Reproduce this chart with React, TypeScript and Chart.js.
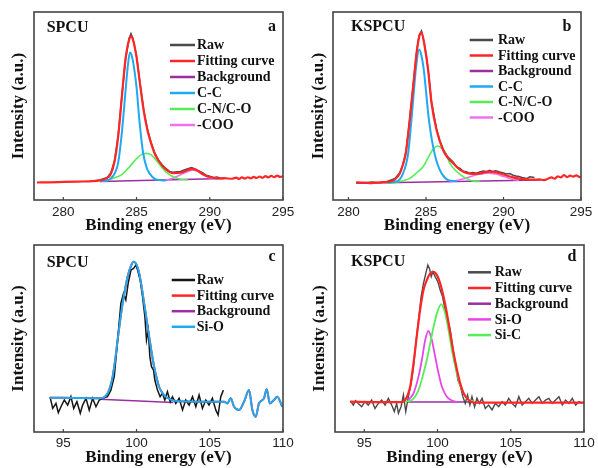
import React, { useEffect, useRef } from "react";
import { Chart, registerables } from "chart.js";
Chart.register(...registerables);

type Pt = [number, number];

// ---------- tick labels ----------
const ticksC1s = [280, 285, 290, 295];
const ticksSi2p = [95, 100, 105, 110];

// ---------- panel a : SPCU C1s ----------
const rawA: Pt[] = [[282.0,10.1],[282.5,10.6],[283.0,12.0],[283.25,14.5],[283.5,21.0],[283.75,34.5],[284.0,55.5],[284.25,75.0],[284.5,86.0],[284.62,88.5],[284.75,86.0],[285.0,76.5],[285.25,61.5],[285.5,47.5],[285.75,37.5],[286.0,30.5],[286.25,25.0],[286.5,21.2],[286.75,18.8],[287.0,16.8],[287.25,15.2],[287.5,14.8],[287.75,15.0],[288.0,15.2],[288.25,16.0],[288.5,16.6],[288.75,17.2],[289.0,16.5],[289.25,15.4],[289.5,14.5],[289.75,13.2],[290.0,12.6],[290.25,12.0],[290.5,12.2],[290.75,11.6],[291.0,11.4]];
const fitA: Pt[] = [[278.2,9.3],[279.0,9.4],[280.0,9.6],[281.0,9.8],[282.0,10.0],[282.5,10.4],[282.75,10.9],[283.0,11.8],[283.25,14.0],[283.5,20.5],[283.75,34.0],[284.0,55.0],[284.25,75.0],[284.5,85.5],[284.62,87.0],[284.75,85.5],[285.0,76.0],[285.25,61.0],[285.5,47.0],[285.75,37.0],[286.0,30.0],[286.25,24.5],[286.5,21.0],[286.75,18.3],[287.0,16.3],[287.5,14.3],[288.0,14.5],[288.5,16.0],[288.8,16.6],[289.1,15.9],[289.5,13.8],[290.0,12.2],[290.5,11.5],[291.0,11.6],[291.5,11.3],[291.8,11.9],[292.0,11.2],[292.2,12.0],[292.4,11.4],[292.6,12.1],[292.8,11.5],[293.0,12.3],[293.2,11.7],[293.4,12.5],[293.6,11.8],[293.8,12.7],[294.0,12.0],[294.2,12.9],[294.4,12.1],[294.6,13.0],[294.8,12.3],[295.0,12.6]];
const bgA: Pt[] = [[282.5,9.8],[291.0,11.5]];
const ccA: Pt[] = [[282.5,10.0],[283.0,10.5],[283.25,11.5],[283.5,14.0],[283.75,20.0],[284.0,36.0],[284.25,58.0],[284.4,71.0],[284.55,78.5],[284.7,76.0],[285.0,60.0],[285.2,42.0],[285.45,25.0],[285.7,17.0],[285.9,14.0],[286.2,11.5],[286.5,10.6],[287.0,10.4]];
const cnA: Pt[] = [[282.5,10.0],[283.0,10.4],[283.5,11.8],[284.0,13.5],[284.5,17.5],[285.0,22.0],[285.3,24.0],[285.64,24.8],[286.0,24.0],[286.5,19.5],[287.0,15.0],[287.5,12.4],[288.0,11.0],[288.5,10.7]];
const cooA: Pt[] = [[287.0,10.6],[287.5,11.6],[288.0,13.4],[288.5,15.2],[288.85,15.8],[289.2,15.1],[289.6,13.3],[290.0,11.8],[290.5,11.4]];

// ---------- panel b : KSPCU C1s ----------
const rawB: Pt[] = [[280.5,9.5],[281.0,9.0],[281.5,9.6],[282.0,9.2],[282.5,9.9],[283.0,11.4],[283.3,14.4],[283.5,18.8],[283.7,25.5],[283.95,43.0],[284.17,60.8],[284.39,78.5],[284.55,87.5],[284.71,90.0],[284.92,82.0],[285.14,69.5],[285.35,52.5],[285.68,37.8],[285.9,31.5],[286.1,27.2],[286.4,23.0],[286.75,20.2],[287.0,17.5],[287.2,16.8],[287.4,15.3],[287.6,15.0],[287.8,14.3],[288.0,14.6],[288.25,14.2],[288.47,14.9],[288.7,15.4],[288.9,15.1],[289.1,15.8],[289.3,15.2],[289.5,15.6],[289.76,14.9],[290.0,14.4],[290.2,13.8],[290.4,14.1],[290.62,13.2],[290.8,12.8],[291.0,12.5],[291.2,12.0],[291.5,11.4],[291.7,12.3],[292.0,12.0]];
const fitB: Pt[] = [[280.5,9.2],[281.0,9.3],[281.5,9.0],[282.0,9.4],[282.5,9.6],[282.75,10.0],[283.0,11.0],[283.3,14.0],[283.5,18.5],[283.7,25.0],[283.95,42.6],[284.17,60.3],[284.39,78.0],[284.55,86.5],[284.71,89.2],[284.92,81.5],[285.14,69.0],[285.35,52.0],[285.68,37.2],[286.1,26.6],[286.4,22.5],[286.75,19.5],[287.2,16.0],[287.6,14.4],[288.0,13.9],[288.47,14.0],[288.8,14.8],[289.1,15.1],[289.45,14.8],[289.76,14.2],[290.2,13.0],[290.62,12.0],[291.0,11.4],[291.5,11.0],[292.0,10.8],[292.3,11.0],[292.6,10.6],[292.9,11.4],[293.1,12.0],[293.3,11.3],[293.5,12.6],[293.7,12.0],[293.9,13.3],[294.1,12.2],[294.3,13.0],[294.5,12.4],[294.7,13.1],[294.9,12.2],[295.0,12.5]];
const bgB: Pt[] = [[280.5,8.9],[292.4,10.6]];
const ccB: Pt[] = [[282.5,9.3],[283.1,9.8],[283.52,14.2],[283.85,24.8],[284.06,42.6],[284.2,56.0],[284.35,70.0],[284.56,80.1],[284.7,77.0],[284.86,69.1],[285.0,58.0],[285.14,46.1],[285.3,36.0],[285.46,28.4],[285.65,21.5],[285.89,16.0],[286.15,12.5],[286.43,10.6],[287.0,10.0]];
const cnB: Pt[] = [[282.5,9.0],[283.1,9.5],[283.95,11.5],[284.4,14.5],[284.81,17.7],[285.2,23.5],[285.5,27.5],[285.74,28.7],[286.0,27.5],[286.3,24.0],[286.54,19.5],[287.0,15.0],[287.4,12.4],[288.04,10.0],[288.5,9.8]];
const cooB: Pt[] = [[286.5,9.9],[287.0,10.4],[287.5,11.5],[288.0,12.8],[288.5,13.9],[289.0,14.3],[289.5,13.8],[290.0,12.5],[290.5,11.2],[291.0,10.5]];

// ---------- panel c : SPCU Si2p ----------
const rawC: Pt[] = [[94.12,18.0],[94.28,12.6],[94.5,15.3],[94.66,10.3],[94.84,13.5],[95.07,17.1],[95.3,14.4],[95.52,18.9],[95.71,12.6],[95.93,16.2],[96.16,10.0],[96.32,14.4],[96.55,18.0],[96.77,11.7],[97.0,18.0],[97.23,13.5],[97.46,17.1],[97.68,18.0],[98.02,18.9],[98.25,22.4],[98.48,29.6],[98.71,49.2],[98.93,68.8],[99.11,74.1],[99.27,70.6],[99.43,79.5],[99.62,86.6],[99.8,87.5],[99.96,89.3],[100.07,86.6],[100.25,81.3],[100.41,72.4],[100.57,61.7],[100.68,49.2],[100.8,54.5],[100.91,40.3],[101.02,34.9],[101.16,33.1],[101.25,27.8],[101.43,22.4],[101.61,18.9],[101.77,20.7],[101.93,17.1],[102.11,21.6],[102.3,16.2],[102.45,18.9],[102.68,15.3],[102.91,18.0],[103.14,11.8],[103.36,17.1],[103.59,14.4],[103.82,18.9],[104.05,13.5],[104.27,19.8],[104.5,12.6],[104.73,17.1],[104.95,14.4],[105.18,18.0],[105.41,11.8],[105.57,9.1],[105.75,18.9],[105.93,22.4]];
const siOC: Pt[] = [[94.05,18.3],[95.0,18.3],[96.0,18.2],[97.0,18.1],[97.57,18.0],[98.03,20.7],[98.2,24.0],[98.37,29.6],[98.55,39.0],[98.71,49.2],[98.88,59.5],[99.05,68.8],[99.22,76.5],[99.39,83.0],[99.6,88.5],[99.8,91.1],[100.0,89.5],[100.18,84.9],[100.35,77.5],[100.52,68.8],[100.69,60.0],[100.86,51.0],[101.03,42.5],[101.2,34.9],[101.37,29.0],[101.54,24.2],[101.77,20.8],[102.0,18.9],[102.3,17.5],[102.57,16.7],[103.5,16.3],[104.5,16.2],[105.5,16.2],[105.98,16.2],[106.2,15.3],[106.43,18.0],[106.66,13.5],[107.0,11.8],[107.34,16.2],[107.68,22.5],[107.91,11.8],[108.14,8.2],[108.36,15.3],[108.7,18.0],[108.89,22.8],[109.1,15.3],[109.38,17.1],[109.61,18.9],[109.95,13.5]];
const bgC: Pt[] = [[97.5,17.5],[102.5,15.8]];

// ---------- panel d : KSPCU Si2p ----------
const rawD: Pt[] = [[94.09,16.2],[94.25,14.4],[94.41,16.8],[94.59,15.3],[94.82,13.5],[95.05,16.2],[95.27,14.4],[95.5,17.1],[95.73,12.6],[95.96,15.3],[96.19,17.1],[96.42,14.4],[96.64,18.0],[96.87,14.4],[97.05,10.9],[97.21,15.3],[97.33,10.0],[97.51,13.5],[97.67,19.8],[97.83,10.9],[98.01,18.9],[98.2,26.0],[98.36,34.9],[98.52,47.4],[98.7,59.9],[98.88,72.4],[99.04,79.5],[99.2,84.8],[99.34,89.3],[99.45,87.5],[99.57,83.1],[99.68,85.7],[99.84,83.1],[100.02,80.4],[100.18,75.9],[100.34,72.4],[100.52,65.2],[100.69,60.8],[100.87,54.5],[101.03,45.6],[101.21,36.7],[101.39,27.8],[101.57,24.2],[101.73,18.9],[101.89,15.3],[102.05,19.8],[102.21,14.4],[102.35,18.9],[102.53,13.5],[102.69,18.0],[102.85,15.3],[103.04,18.0],[103.26,12.6],[103.49,14.4],[103.72,11.8],[103.95,15.3],[104.18,13.5],[104.41,16.2],[104.63,14.4],[104.86,18.0],[105.09,15.3],[105.32,13.5],[105.55,18.9],[105.78,14.4],[106.0,16.2],[106.23,18.0],[106.46,15.3],[106.69,17.1],[106.92,18.9],[107.15,15.3],[107.37,17.1],[107.6,18.0],[107.83,15.3],[108.06,17.1],[108.29,18.9],[108.52,14.4],[108.74,17.1],[108.97,15.3],[109.2,18.0],[109.43,14.4],[109.66,16.2],[109.89,15.3]];
const fitD: Pt[] = [[94.02,16.2],[96.0,16.0],[97.5,16.0],[97.79,17.1],[98.13,24.2],[98.36,36.7],[98.58,51.0],[98.81,65.2],[99.04,75.9],[99.27,81.3],[99.5,84.8],[99.73,85.7],[99.95,84.0],[100.18,79.5],[100.41,72.4],[100.64,63.4],[100.87,52.8],[101.1,42.1],[101.33,33.2],[101.55,26.0],[101.78,20.7],[102.12,17.1],[102.47,15.7],[104.0,15.7],[106.0,15.7],[108.0,15.7],[110.0,15.7]];
const bgD: Pt[] = [[98.0,16.0],[102.2,16.0]];
const siOD: Pt[] = [[98.01,17.1],[98.36,20.7],[98.7,29.6],[98.93,38.5],[99.16,49.2],[99.38,54.0],[99.61,49.2],[99.84,40.3],[100.07,31.4],[100.3,24.2],[100.64,18.9],[100.98,16.8],[101.33,16.0]];
const siCD: Pt[] = [[97.79,16.2],[98.24,17.1],[98.7,22.4],[99.04,31.4],[99.27,38.5],[99.5,47.4],[99.73,56.3],[100.0,64.5],[100.25,68.4],[100.52,63.4],[100.75,54.5],[100.98,43.8],[101.21,34.9],[101.44,27.8],[101.67,22.4],[102.01,18.0],[102.47,16.2]];

// ---------- colours ----------
const RAW = "#4a4a4a";
const RAWC = "#151515";
const RED = "#ff2626";
const PURPLE = "#9a2fa0";
const BLUE = "#1fa9f2";
const GREEN = "#55ee55";
const PINK = "#f070f0";
const MAGENTA = "#e845e8";

type Series = { label: string; data: Pt[]; color: string; width: number; order: number; smooth: boolean };
type PanelCfg = {
  left: number; top: number; width: number; height: number;
  padTop: number; padRight: number; yWidth: number; xHeight: number;
  xMin: number; xMax: number; ticks: number[]; tickPad: number; yTitlePad: number;
  name: string; letter: string;
  nameX: number; nameY: number; letterX: number; letterY: number;
  legX1: number; legX2: number; legTX: number; legY: number; legDy: number;
  series: Series[];
};

const SERIF = '"Liberation Serif", "Times New Roman", serif';
const SANS = '"Liberation Sans", Arial, sans-serif';

const decor = {
  id: "decor",
  afterDraw(chart: any, _args: any, o: any) {
    const { ctx, chartArea: ca } = chart;
    const x = chart.scales.x;
    ctx.save();
    ctx.strokeStyle = "#444";
    ctx.lineWidth = 1.6;
    ctx.strokeRect(ca.left, ca.top, ca.right - ca.left, ca.bottom - ca.top);
    ctx.lineWidth = 1.2;
    ctx.beginPath();
    for (const v of o.ticks) {
      const px = x.getPixelForValue(v);
      ctx.moveTo(px, ca.bottom);
      ctx.lineTo(px, ca.bottom - 3);
    }
    ctx.stroke();
    ctx.fillStyle = "#111";
    ctx.textBaseline = "middle";
    ctx.font = `bold 16px ${SERIF}`;
    ctx.textAlign = "left";
    ctx.fillText(o.name, ca.left + o.nameX, ca.top + o.nameY);
    ctx.textAlign = "center";
    ctx.fillText(o.letter, ca.left + o.letterX, ca.top + o.letterY);
    ctx.font = `bold 14px ${SERIF}`;
    ctx.textAlign = "left";
    o.series.forEach((s: Series, i: number) => {
      const y = ca.top + o.legY + i * o.legDy;
      ctx.strokeStyle = s.color;
      ctx.lineWidth = 2.5;
      ctx.beginPath();
      ctx.moveTo(ca.left + o.legX1, y);
      ctx.lineTo(ca.left + o.legX2, y);
      ctx.stroke();
      ctx.fillStyle = "#111";
      ctx.fillText(s.label, ca.left + o.legTX, y + 0.5);
    });
    ctx.restore();
  },
};

function Panel({ cfg }: { cfg: PanelCfg }) {
  const ref = useRef<HTMLCanvasElement>(null);
  useEffect(() => {
    const chart = new Chart(ref.current!, {
      type: "line",
      data: {
        datasets: cfg.series.map((s) => ({
          label: s.label,
          data: s.data.map(([x, y]) => ({ x, y })),
          borderColor: s.color,
          backgroundColor: s.color,
          borderWidth: s.width,
          pointRadius: 0,
          order: s.order,
          fill: false,
          tension: 0,
          cubicInterpolationMode: s.smooth ? "monotone" : "default",
        })),
      } as any,
      options: {
        animation: false,
        responsive: false,
        maintainAspectRatio: false,
        events: [],
        layout: { padding: { left: 0, top: cfg.padTop, right: cfg.padRight, bottom: 0 } },
        plugins: {
          legend: { display: false },
          tooltip: { enabled: false },
          decor: cfg,
        } as any,
        scales: {
          x: {
            type: "linear",
            min: cfg.xMin,
            max: cfg.xMax,
            afterBuildTicks: (s: any) => {
              s.ticks = cfg.ticks.map((v) => ({ value: v }));
            },
            afterFit: (s: any) => {
              s.height = cfg.xHeight;
            },
            grid: { display: false, drawTicks: false },
            border: { display: false },
            ticks: {
              font: { family: SANS, size: 13.5 },
              color: "#222",
              padding: cfg.tickPad,
              maxRotation: 0,
              autoSkip: false,
            },
            title: {
              display: true,
              text: "Binding energy (eV)",
              font: { family: SERIF, size: 17, weight: "bold" },
              color: "#111",
              padding: { top: 0, bottom: 0 },
            },
          },
          y: {
            type: "linear",
            min: 0,
            max: 100,
            afterFit: (s: any) => {
              s.width = cfg.yWidth;
            },
            grid: { display: false, drawTicks: false },
            border: { display: false },
            ticks: { display: false },
            title: {
              display: true,
              text: "Intensity (a.u.)",
              font: { family: SERIF, size: 17, weight: "bold" },
              color: "#111",
              padding: { top: cfg.yTitlePad, bottom: 0 },
            },
          },
        },
      } as any,
      plugins: [decor],
    });
    return () => chart.destroy();
  }, [cfg]);
  return (
    <canvas
      ref={ref}
      width={cfg.width}
      height={cfg.height}
      style={{ position: "absolute", left: cfg.left, top: cfg.top, width: cfg.width, height: cfg.height }}
    />
  );
}

const panels: PanelCfg[] = [
  {
    left: 0, top: 0, width: 299, height: 236, padTop: 12, padRight: 16, yWidth: 34, xHeight: 36,
    xMin: 278, xMax: 295, ticks: ticksC1s, tickPad: 4, yTitlePad: 8,
    name: "SPCU", letter: "a", nameX: 12.7, nameY: 16, letterX: 238, letterY: 15,
    legX1: 136, legX2: 161, legTX: 163, legY: 33, legDy: 16,
    series: [
      { label: "Raw", data: rawA, color: RAW, width: 1.5, order: 6, smooth: false },
      { label: "Fitting curve", data: fitA, color: RED, width: 2.2, order: 0, smooth: true },
      { label: "Background", data: bgA, color: PURPLE, width: 1.5, order: 5, smooth: false },
      { label: "C-C", data: ccA, color: BLUE, width: 2, order: 1, smooth: true },
      { label: "C-N/C-O", data: cnA, color: GREEN, width: 1.6, order: 2, smooth: true },
      { label: "-COO", data: cooA, color: PINK, width: 1.6, order: 3, smooth: true },
    ],
  },
  {
    left: 299, top: 0, width: 299, height: 236, padTop: 12, padRight: 17, yWidth: 34, xHeight: 36,
    xMin: 279, xMax: 295, ticks: ticksC1s, tickPad: 4, yTitlePad: 9,
    name: "KSPCU", letter: "b", nameX: 18, nameY: 15, letterX: 234, letterY: 15,
    legX1: 136.7, legX2: 160, legTX: 165, legY: 28, legDy: 15.5,
    series: [
      { label: "Raw", data: rawB, color: RAW, width: 1.5, order: 6, smooth: false },
      { label: "Fitting curve", data: fitB, color: RED, width: 2.2, order: 0, smooth: true },
      { label: "Background", data: bgB, color: PURPLE, width: 1.5, order: 5, smooth: false },
      { label: "C-C", data: ccB, color: BLUE, width: 2, order: 1, smooth: true },
      { label: "C-N/C-O", data: cnB, color: GREEN, width: 1.6, order: 2, smooth: true },
      { label: "-COO", data: cooB, color: PINK, width: 1.6, order: 3, smooth: true },
    ],
  },
  {
    left: 0, top: 234, width: 299, height: 234, padTop: 11, padRight: 16, yWidth: 34, xHeight: 36,
    xMin: 93, xMax: 110, ticks: ticksSi2p, tickPad: 3, yTitlePad: 8,
    name: "SPCU", letter: "c", nameX: 12.7, nameY: 18.3, letterX: 238, letterY: 11.7,
    legX1: 137.7, legX2: 161, legTX: 162.7, legY: 35, legDy: 15.6,
    series: [
      { label: "Raw", data: rawC, color: RAWC, width: 1.5, order: 2, smooth: false },
      { label: "Fitting curve", data: siOC, color: RED, width: 2, order: 3, smooth: true },
      { label: "Background", data: bgC, color: PURPLE, width: 1.5, order: 4, smooth: false },
      { label: "Si-O", data: siOC, color: BLUE, width: 2, order: 1, smooth: true },
    ],
  },
  {
    left: 299, top: 234, width: 299, height: 234, padTop: 11, padRight: 14, yWidth: 36, xHeight: 36,
    xMin: 93, xMax: 110, ticks: ticksSi2p, tickPad: 3, yTitlePad: 10.5,
    name: "KSPCU", letter: "d", nameX: 16, nameY: 17.3, letterX: 237, letterY: 11.7,
    legX1: 133, legX2: 156, legTX: 159.7, legY: 27.3, legDy: 15.7,
    series: [
      { label: "Raw", data: rawD, color: RAW, width: 1.4, order: 4, smooth: false },
      { label: "Fitting curve", data: fitD, color: RED, width: 2.2, order: 0, smooth: true },
      { label: "Background", data: bgD, color: PURPLE, width: 1.5, order: 5, smooth: false },
      { label: "Si-O", data: siOD, color: MAGENTA, width: 1.8, order: 2, smooth: true },
      { label: "Si-C", data: siCD, color: GREEN, width: 1.8, order: 1, smooth: true },
    ],
  },
];

export default function App() {
  return (
    <div style={{ position: "absolute", left: 0, top: 0, width: 598, height: 468, background: "#fff" }}>
      {panels.map((p, i) => (
        <Panel key={i} cfg={p} />
      ))}
    </div>
  );
}
